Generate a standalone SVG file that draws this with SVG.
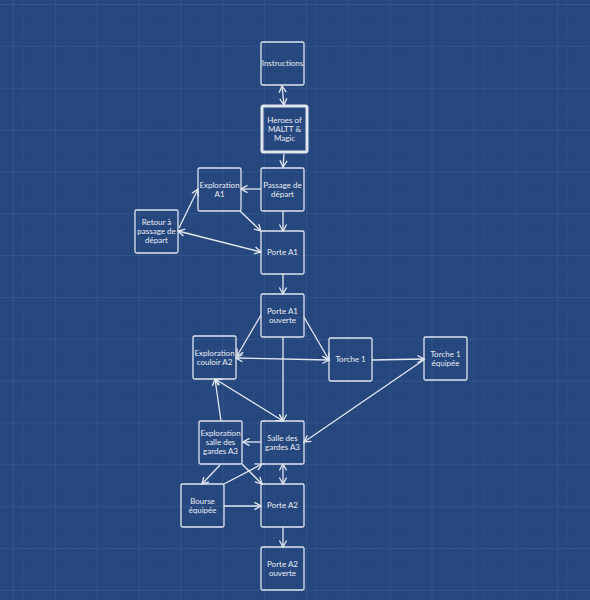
<svg xmlns="http://www.w3.org/2000/svg" width="590" height="600" viewBox="0 0 590 600">
  <defs>
    <pattern id="grid" patternUnits="userSpaceOnUse" x="13" y="4" width="41.85" height="41.85">
      <rect width="41.85" height="41.85" fill="#26477e"/>
      <path d="M10.46,0V41.85M20.92,0V41.85M31.39,0V41.85M0,10.46H41.85M0,20.92H41.85M0,31.39H41.85" stroke="#2b4d85" stroke-width="0.6" fill="none"/>
      <path d="M0.4,0V41.85M0,0.4H41.85" stroke="#33578e" stroke-width="0.8" fill="none"/>
    </pattern>
    <marker id="arr" viewBox="-8 -5 9 10" refX="0" refY="0" markerWidth="9" markerHeight="10" markerUnits="userSpaceOnUse" orient="auto-start-reverse">
      <path d="M-6.5,-3.6 L0,0 L-6.5,3.6" fill="none" stroke="#e4e9f1" stroke-width="1.3"/>
    </marker>
  </defs>
  <style>
    .box { fill: none; stroke: #dfe5ee; stroke-width: 1.3; }
    .thick { fill: none; stroke: #dfe5ee; stroke-width: 3; }
    .t { font-family: Lato, "Open Sans", sans-serif; font-size: 8px; fill: #e8ecf3; text-anchor: middle; }
    .e { stroke: #e4e9f1; stroke-width: 1.3; fill: none; marker-end: url(#arr); }
    .d { marker-start: url(#arr); }
  </style>
  <rect width="590" height="600" fill="url(#grid)"/>

  <g id="connectors">
    <line class="e d" x1="282" y1="86" x2="284" y2="105"/>
    <line class="e" x1="284" y1="154" x2="283" y2="167"/>
    <line class="e" x1="261" y1="189" x2="241" y2="189"/>
    <line class="e" x1="240" y1="211" x2="261" y2="231"/>
    <line class="e" x1="283" y1="211" x2="283" y2="231"/>
    <line class="e" x1="179" y1="228" x2="198" y2="189"/>
    <line class="e d" x1="178" y1="231" x2="261" y2="252"/>
    <line class="e" x1="283" y1="274" x2="283" y2="294"/>
    <line class="e" x1="261" y1="315" x2="237" y2="356"/>
    <line class="e" x1="304" y1="317" x2="329" y2="360"/>
    <line class="e d" x1="236" y1="358" x2="329" y2="360"/>
    <line class="e" x1="372" y1="360" x2="424" y2="359"/>
    <line class="e" x1="425" y1="359" x2="304" y2="442"/>
    <line class="e" x1="283" y1="337" x2="283" y2="421"/>
    <line class="e d" x1="215" y1="379" x2="283" y2="421"/>
    <line class="e" x1="221" y1="421" x2="215" y2="379"/>
    <line class="e" x1="261" y1="442" x2="243" y2="442"/>
    <line class="e" x1="220" y1="465" x2="202" y2="484"/>
    <line class="e" x1="242" y1="464" x2="262" y2="484"/>
    <line class="e" x1="224" y1="484" x2="262" y2="464"/>
    <line class="e d" x1="283" y1="464" x2="283" y2="484"/>
    <line class="e" x1="224" y1="506" x2="261" y2="506"/>
    <line class="e" x1="283" y1="527" x2="283" y2="547"/>
  </g>

  <g id="instructions">
    <rect class="box" x="261" y="42" width="43" height="43" rx="1.5"/>
    <text class="t" x="282.5" y="66.3">Instructions</text>
  </g>
  <g id="heroes">
    <rect class="thick" x="262" y="106" width="45" height="46" rx="1.5"/>
    <text class="t" x="284.5" y="122.8">Heroes of</text>
    <text class="t" x="284.5" y="131.8">MALTT &amp;</text>
    <text class="t" x="284.5" y="140.8">Magic</text>
  </g>
  <g id="passage">
    <rect class="box" x="261" y="168" width="43" height="43" rx="1.5"/>
    <text class="t" x="282.5" y="187.8">Passage de</text>
    <text class="t" x="282.5" y="196.8">départ</text>
  </g>
  <g id="explorationA1">
    <rect class="box" x="198" y="168" width="43" height="43" rx="1.5"/>
    <text class="t" x="219.5" y="187.8">Exploration</text>
    <text class="t" x="219.5" y="196.8">A1</text>
  </g>
  <g id="retour">
    <rect class="box" x="135" y="210" width="43" height="43" rx="1.5"/>
    <text class="t" x="156.5" y="225.3">Retour à</text>
    <text class="t" x="156.5" y="234.3">passage de</text>
    <text class="t" x="156.5" y="243.3">départ</text>
  </g>
  <g id="porteA1">
    <rect class="box" x="261" y="231" width="43" height="43" rx="1.5"/>
    <text class="t" x="282.5" y="255.3">Porte A1</text>
  </g>
  <g id="porteA1ouverte">
    <rect class="box" x="261" y="294" width="43" height="43" rx="1.5"/>
    <text class="t" x="282.5" y="313.8">Porte A1</text>
    <text class="t" x="282.5" y="322.8">ouverte</text>
  </g>
  <g id="couloirA2">
    <rect class="box" x="193" y="336" width="43" height="43" rx="1.5"/>
    <text class="t" x="214.5" y="355.8">Exploration</text>
    <text class="t" x="214.5" y="364.8">couloir A2</text>
  </g>
  <g id="torche1">
    <rect class="box" x="329" y="338" width="43" height="43" rx="1.5"/>
    <text class="t" x="350.5" y="362.3">Torche 1</text>
  </g>
  <g id="torche1equipee">
    <rect class="box" x="424" y="337" width="43" height="43" rx="1.5"/>
    <text class="t" x="445.5" y="356.8">Torche 1</text>
    <text class="t" x="445.5" y="365.8">équipée</text>
  </g>
  <g id="salleA3">
    <rect class="box" x="261" y="421" width="43" height="43" rx="1.5"/>
    <text class="t" x="282.5" y="440.8">Salle des</text>
    <text class="t" x="282.5" y="449.8">gardes A3</text>
  </g>
  <g id="explorationSalleA3">
    <rect class="box" x="199" y="421" width="43" height="43" rx="1.5"/>
    <text class="t" x="220.5" y="436.3">Exploration</text>
    <text class="t" x="220.5" y="445.3">salle des</text>
    <text class="t" x="220.5" y="454.3">gardes A3</text>
  </g>
  <g id="bourse">
    <rect class="box" x="181" y="484" width="43" height="43" rx="1.5"/>
    <text class="t" x="202.5" y="503.8">Bourse</text>
    <text class="t" x="202.5" y="512.8">équipée</text>
  </g>
  <g id="porteA2">
    <rect class="box" x="261" y="484" width="43" height="43" rx="1.5"/>
    <text class="t" x="282.5" y="508.3">Porte A2</text>
  </g>
  <g id="porteA2ouverte">
    <rect class="box" x="261" y="547" width="43" height="43" rx="1.5"/>
    <text class="t" x="282.5" y="566.8">Porte A2</text>
    <text class="t" x="282.5" y="575.8">ouverte</text>
  </g>
</svg>
